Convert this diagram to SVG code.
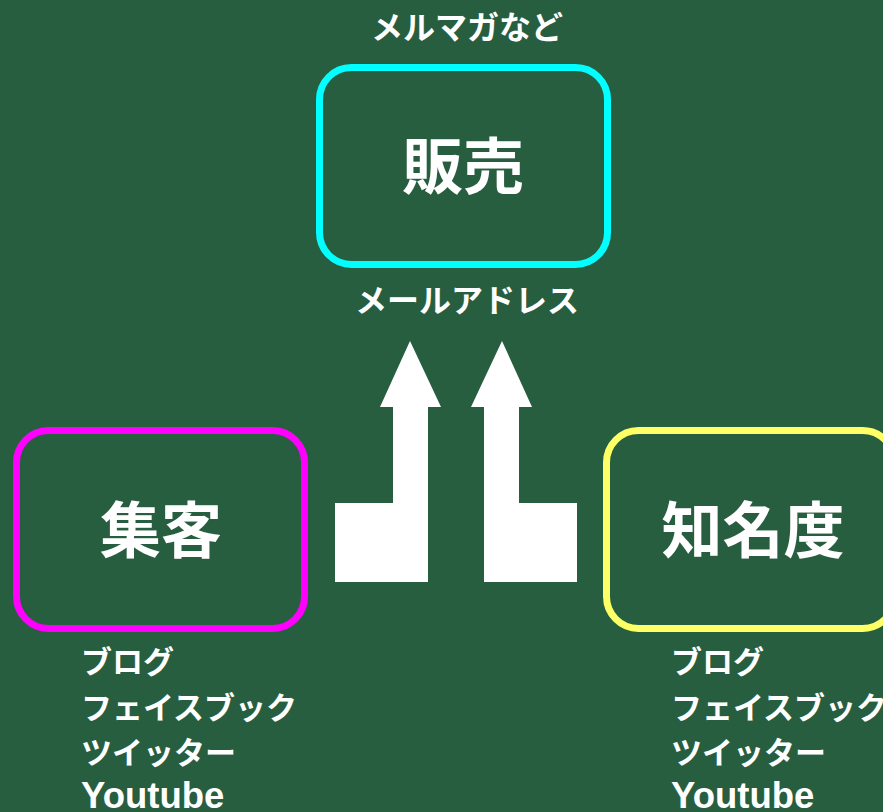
<svg xmlns="http://www.w3.org/2000/svg" width="883" height="812" viewBox="0 0 883 812">
<style>
.box{fill:none;stroke-width:7}
.t{font-family:"Noto Sans CJK JP","Liberation Sans",sans-serif;font-weight:bold;fill:#fff}
.big{font-size:61px;text-anchor:middle}
.sm{font-size:31px}
.md{font-size:32px;text-anchor:middle}
.yt{font-family:"Liberation Sans","Noto Sans CJK JP",sans-serif;font-weight:bold;fill:#fff;font-size:36.5px}
.arrow{fill:#fff}
</style>
<rect width="883" height="812" fill="#285e40"/>
<text class="t md" x="467" y="39">メルマガなど</text>
<g id="hanbai">
<rect class="box" x="319.5" y="67.5" width="288" height="197" rx="32" stroke="#00ffff"/>
<text class="t big" x="463" y="189">販売</text>
</g>
<text class="t md" x="467" y="312">メールアドレス</text>
<g id="shukyaku">
<rect class="box" x="16.5" y="430.5" width="288" height="198" rx="32" stroke="#ff00ff"/>
<text class="t big" x="161" y="553">集客</text>
</g>
<g id="chimeido">
<rect class="box" x="606.5" y="430.5" width="288" height="198" rx="32" stroke="#ffff66"/>
<text class="t big" x="753" y="553">知名度</text>
</g>
<g id="connectors">
<polygon class="arrow" points="410,341 441,407 428,407 428,582 335,582 335,503 393,503 393,407 380,407"/>
<polygon class="arrow" points="502,341 532,407 519,407 519,503 577,503 577,582 484,582 484,407 471,407"/>
</g>
<g id="list-left">
<text class="t sm" x="81" y="673">ブログ</text>
<text class="t sm" x="81" y="719">フェイスブック</text>
<text class="t sm" x="81" y="764">ツイッター</text>
<text class="yt" x="81" y="808">Youtube</text>
</g>
<g id="list-right">
<text class="t sm" x="671" y="673">ブログ</text>
<text class="t sm" x="671" y="719">フェイスブック</text>
<text class="t sm" x="671" y="764">ツイッター</text>
<text class="yt" x="671" y="808">Youtube</text>
</g>
</svg>
